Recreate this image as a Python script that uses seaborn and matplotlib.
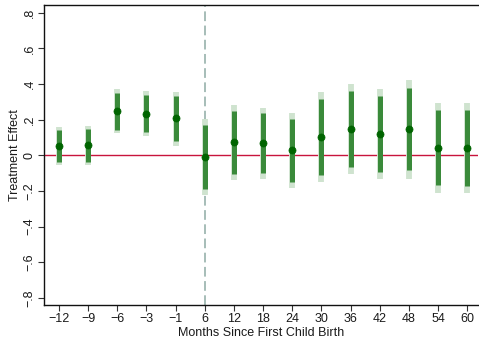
import numpy as np
import pandas as pd
import matplotlib
matplotlib.use("Agg")
import matplotlib.pyplot as plt
import seaborn as sns

# Event-time categories (months relative to first child birth)
months = ["-12", "-9", "-6", "-3", "-1", "6", "12", "18", "24", "30", "36", "42", "48", "54", "60"]
tick_labels = ["\u221212", "\u22129", "\u22126", "\u22123", "\u22121", "6", "12", "18", "24",
               "30", "36", "42", "48", "54", "60"]

# Point estimates
effect = [0.052, 0.056, 0.248, 0.233, 0.207, -0.008, 0.073, 0.067, 0.030,
          0.104, 0.149, 0.119, 0.146, 0.043, 0.043]
# Inner (95%) confidence bounds
ci95_lo = [-0.039, -0.036, 0.144, 0.131, 0.078, -0.187, -0.105, -0.101, -0.150,
           -0.112, -0.064, -0.094, -0.084, -0.168, -0.172]
ci95_hi = [0.142, 0.146, 0.349, 0.338, 0.334, 0.170, 0.250, 0.235, 0.205,
           0.317, 0.360, 0.331, 0.375, 0.252, 0.256]
# Outer (99%) confidence bounds
ci99_lo = [-0.053, -0.053, 0.123, 0.110, 0.054, -0.222, -0.138, -0.133, -0.181,
           -0.150, -0.103, -0.135, -0.131, -0.210, -0.210]
ci99_hi = [0.160, 0.163, 0.370, 0.359, 0.357, 0.203, 0.284, 0.267, 0.239,
           0.355, 0.400, 0.370, 0.420, 0.291, 0.295]

y_ticks = [-0.8, -0.6, -0.4, -0.2, 0.0, 0.2, 0.4, 0.6, 0.8]
y_tick_labels = ["\u2212.8", "\u2212.6", "\u2212.4", "\u2212.2", "0", ".2", ".4", ".6", ".8"]

df = pd.DataFrame({"month": months, "effect": effect,
                   "lo95": ci95_lo, "hi95": ci95_hi,
                   "lo99": ci99_lo, "hi99": ci99_hi})

sns.set_style("ticks")
plt.rcParams["font.family"] = ["Liberation Sans", "DejaVu Sans"]

fig = plt.figure(figsize=(4.79, 3.43), dpi=100, facecolor="white")
ax = fig.add_axes([44 / 479, 38 / 343, 434 / 479, 300 / 343])

pos = np.arange(len(df))

# Reference lines
ax.axhline(0, color="#c8143c", lw=1.0, zorder=1)
ax.axvline(pos[months.index("6")], color="#a6bdb8", lw=1.4, ls=(0, (5, 2.3)), zorder=1)

# Confidence intervals
ax.vlines(pos, df["lo99"], df["hi99"], color="#cfe3cf", lw=4.2, zorder=2)
ax.vlines(pos, df["lo95"], df["hi95"], color="#3a8a3a", lw=3.6, zorder=3)

# Point estimates
sns.scatterplot(x=pos, y=df["effect"], ax=ax, color="#006400", s=26,
                edgecolor="#006400", linewidth=0.5, zorder=4, legend=False)

ax.set_xlim(-0.514, 14.37)
ax.set_ylim(-0.84, 0.843)
ax.set_xticks(pos)
ax.set_xticklabels(tick_labels, fontsize=9, color="#1a1a1a")
ax.set_yticks(y_ticks)
ax.set_yticklabels(y_tick_labels, fontsize=9, rotation=90, va="center", color="#1a1a1a")

ax.tick_params(axis="both", which="major", direction="out", length=4, width=0.8,
               color="#333333", bottom=True, left=True, right=False, top=False, pad=2)

for side in ["left", "bottom", "top"]:
    ax.spines[side].set_visible(True)
    ax.spines[side].set_color("#111111")
    ax.spines[side].set_linewidth(1.0)
ax.spines["right"].set_visible(False)

ax.set_xlabel("Months Since First Child Birth", fontsize=9, color="#1a1a1a", labelpad=1.5)
ax.set_ylabel("Treatment Effect", fontsize=9, color="#1a1a1a", labelpad=2)

fig.savefig("out.png", dpi=100, facecolor="white")
